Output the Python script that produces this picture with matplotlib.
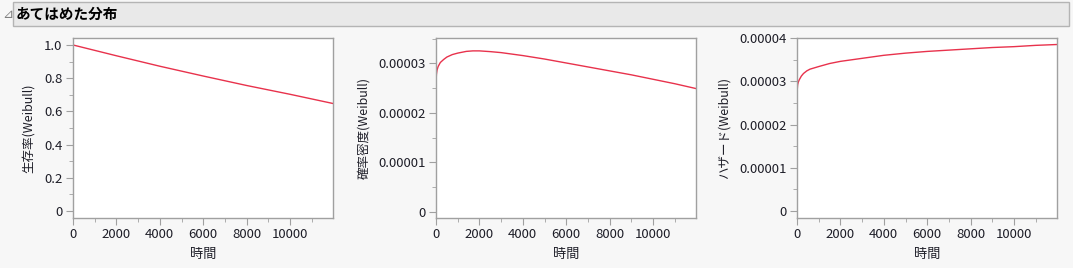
import numpy as np
import matplotlib.pyplot as plt
from matplotlib.patches import Rectangle
from matplotlib.ticker import MultipleLocator, FuncFormatter

plt.rcParams["font.family"] = ["Noto Sans CJK JP", "DejaVu Sans"]

# values
surv_t = [0, 2000, 4000, 6000, 8000, 10000, 12000]
surv = [1.0, 0.935, 0.872, 0.813, 0.756, 0.703, 0.647]

dens_t = [0, 20, 50, 100, 200, 350, 500, 750, 1000, 1400, 1700, 2000, 2500,
          3000, 4000, 5000, 6000, 7000, 8000, 9000, 10000, 11000, 12000]
dens = [2.62e-5, 2.78e-5, 2.87e-5, 2.94e-5, 3.02e-5, 3.08e-5, 3.13e-5, 3.18e-5,
        3.21e-5, 3.245e-5, 3.255e-5, 3.255e-5, 3.24e-5, 3.22e-5, 3.16e-5, 3.09e-5,
        3.01e-5, 2.93e-5, 2.85e-5, 2.77e-5, 2.68e-5, 2.59e-5, 2.49e-5]

haz_t = [0, 10, 30, 60, 100, 200, 300, 450, 600, 800, 1000, 1500, 2000, 3000,
         4000, 5000, 6000, 7000, 8000, 9000, 10000, 11000, 12000]
haz = [2.62e-5, 2.8e-5, 2.92e-5, 2.98e-5, 3.03e-5, 3.12e-5, 3.18e-5, 3.24e-5,
       3.28e-5, 3.31e-5, 3.34e-5, 3.41e-5, 3.46e-5, 3.53e-5, 3.6e-5, 3.65e-5,
       3.69e-5, 3.72e-5, 3.75e-5, 3.78e-5, 3.8e-5, 3.83e-5, 3.85e-5]

title = "あてはめた分布"
xlabel = "時間"
ylabels = ["生存率(Weibull)", "確率密度(Weibull)", "ハザード(Weibull)"]

line_color = "#e8324c"
spine_color = "#a0a0a0"
text_color = "#1e1e28"

fig = plt.figure(figsize=(10.73, 2.68), dpi=100)
fig.patch.set_facecolor("#f7f7f7")

# header bar
fig.patches.append(Rectangle((13 / 1073, 1 - 26 / 268), 1056 / 1073, 24 / 268,
                             transform=fig.transFigure, facecolor="#e9e9e9",
                             edgecolor="#b4b4b4", linewidth=1))
fig.text(16 / 1073, 1 - 14 / 268, title, fontsize=10.5, fontweight="bold",
         va="center", ha="left", color="black")
fig.text(2 / 1073, 1 - 14 / 268, "⊿", fontsize=9.5, va="center", ha="left",
         color="#808080", family=["DejaVu Sans"])

lefts = [73, 436, 797]
width = 260
bottom = 50
height = 180


def fmt_small(v, pos):
    if abs(v) < 1e-12:
        return "0"
    return f"{v:.5f}"


def fmt_surv(v, pos):
    if abs(v) < 1e-12:
        return "0"
    return f"{v:.1f}"


panels = [
    (surv_t, surv, (-0.042, 1.042), 0.2, 0.1, fmt_surv),
    (dens_t, dens, (-0.13e-5, 3.516e-5), 1e-5, 0.5e-5, fmt_small),
    (haz_t, haz, (-0.16e-5, 4.0e-5), 1e-5, 0.5e-5, fmt_small),
]

for i, (t, y, ylim, major, minor, fmt) in enumerate(panels):
    ax = fig.add_axes([lefts[i] / 1073, bottom / 268, width / 1073, height / 268])
    ax.plot(t, y, color=line_color, linewidth=1.0)
    ax.set_xlim(0, 11980)
    ax.set_ylim(*ylim)
    ax.xaxis.set_major_locator(MultipleLocator(2000))
    ax.xaxis.set_minor_locator(MultipleLocator(1000))
    ax.yaxis.set_major_locator(MultipleLocator(major))
    ax.yaxis.set_minor_locator(MultipleLocator(minor))
    ax.yaxis.set_major_formatter(FuncFormatter(fmt))
    ax.xaxis.set_major_formatter(FuncFormatter(lambda v, p: f"{int(v)}"))
    for s in ax.spines.values():
        s.set_color(spine_color)
        s.set_linewidth(1)
    ax.tick_params(which="major", length=5, color=spine_color, labelsize=9.5,
                   labelcolor=text_color, pad=2.5)
    ax.tick_params(which="minor", length=3, color=spine_color)
    ax.set_xlabel(xlabel, fontsize=9.5, color=text_color, labelpad=5)
    ax.set_ylabel(ylabels[i], fontsize=9, color=text_color, labelpad=6)

plt.savefig("out.png", dpi=100, facecolor=fig.get_facecolor())
